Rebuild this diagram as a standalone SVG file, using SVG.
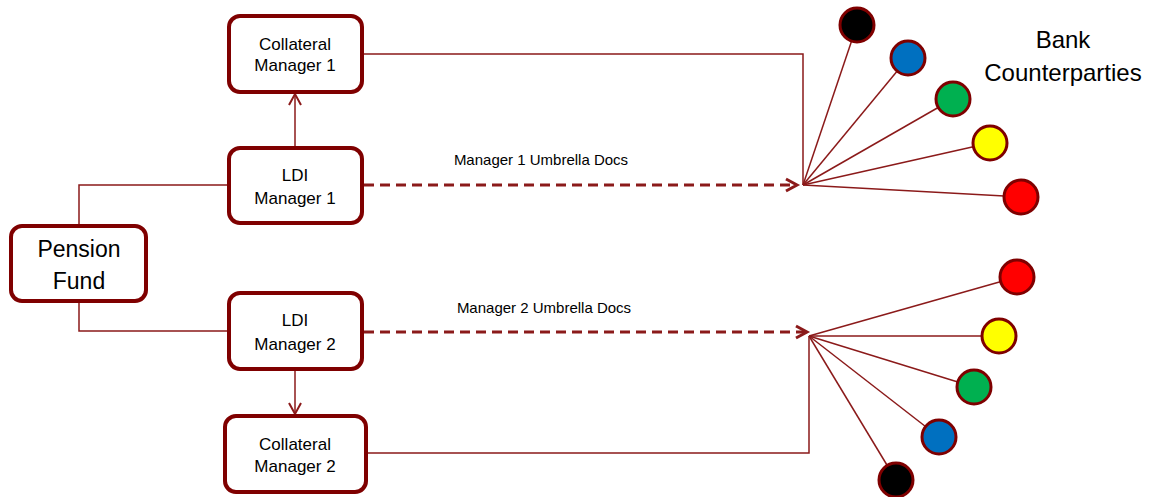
<svg xmlns="http://www.w3.org/2000/svg" width="1157" height="497" viewBox="0 0 1157 497">
<style>
.box{fill:#fff;stroke:#7f0000;stroke-width:4}
.t{font-family:"Liberation Sans",Arial,sans-serif;fill:#000;text-anchor:middle}
.line{fill:none;stroke:#8b1a1a;stroke-width:1.5}
.dash{fill:none;stroke:#8b1a1a;stroke-width:3;stroke-dasharray:10,6}
.head{fill:none;stroke:#8b1a1a;stroke-width:2}
.headb{fill:none;stroke:#8b1a1a;stroke-width:3}
.c{stroke:#7f0000;stroke-width:3}
</style>
<rect width="1157" height="497" fill="#fff"/>
<g id="connectors">
  <polyline class="line" points="79,226 79,185 229,185"/>
  <polyline class="line" points="79,301 79,331 229,331"/>
  <line class="line" x1="295" y1="148" x2="295" y2="94"/>
  <polyline class="head" points="289,105 295,94 301,105"/>
  <line class="line" x1="295" y1="370" x2="295" y2="414"/>
  <polyline class="head" points="289,403 295,414 301,403"/>
  <polyline class="line" points="362,54 803,54 803,185"/>
  <polyline class="line" points="366,453 809,453 809,336"/>
  <line class="dash" x1="364" y1="185" x2="796" y2="185"/>
  <polyline class="headb" points="786,179 797,185 786,191"/>
  <line class="dash" x1="364" y1="332" x2="805" y2="332"/>
  <polyline class="headb" points="796,326 807,332 796,338"/>
  <line class="line" x1="803" y1="185" x2="857" y2="25"/>
  <line class="line" x1="803" y1="185" x2="908" y2="58"/>
  <line class="line" x1="803" y1="185" x2="953" y2="99"/>
  <line class="line" x1="803" y1="185" x2="990" y2="143"/>
  <line class="line" x1="803" y1="185" x2="1021" y2="197"/>
  <line class="line" x1="809" y1="336" x2="1017" y2="277"/>
  <line class="line" x1="809" y1="336" x2="999" y2="336"/>
  <line class="line" x1="809" y1="336" x2="974" y2="387"/>
  <line class="line" x1="809" y1="336" x2="939" y2="437"/>
  <line class="line" x1="809" y1="336" x2="896" y2="480"/>
  <text class="t" x="541" y="165" font-size="15">Manager 1 Umbrella Docs</text>
  <text class="t" x="544" y="313" font-size="15">Manager 2 Umbrella Docs</text>
</g>
<g id="pension-fund">
  <rect class="box" x="11" y="226" width="135" height="75" rx="11"/>
  <text class="t" x="79" y="257" font-size="23">Pension</text>
  <text class="t" x="79" y="289" font-size="23">Fund</text>
</g>
<g id="collateral-manager-1">
  <rect class="box" x="229" y="16" width="133" height="76" rx="11"/>
  <text class="t" x="295" y="50" font-size="17">Collateral</text>
  <text class="t" x="295" y="71" font-size="17">Manager 1</text>
</g>
<g id="ldi-manager-1">
  <rect class="box" x="229" y="148" width="133" height="75" rx="11"/>
  <text class="t" x="295" y="181" font-size="17">LDI</text>
  <text class="t" x="295" y="204" font-size="17">Manager 1</text>
</g>
<g id="ldi-manager-2">
  <rect class="box" x="229" y="293" width="133" height="76" rx="11"/>
  <text class="t" x="295" y="326" font-size="17">LDI</text>
  <text class="t" x="295" y="350" font-size="17">Manager 2</text>
</g>
<g id="collateral-manager-2">
  <rect class="box" x="225" y="416" width="141" height="76" rx="11"/>
  <text class="t" x="295" y="450" font-size="17">Collateral</text>
  <text class="t" x="295" y="472" font-size="17">Manager 2</text>
</g>
<g id="bank-counterparties-label">
  <text class="t" x="1063" y="48" font-size="24">Bank</text>
  <text class="t" x="1063" y="81" font-size="24">Counterparties</text>
</g>
<g id="banks-1">
  <circle class="c" cx="857" cy="25" r="17" fill="#000"/>
  <circle class="c" cx="908" cy="58" r="17" fill="#0070c0"/>
  <circle class="c" cx="953" cy="99" r="17" fill="#00b050"/>
  <circle class="c" cx="990" cy="143" r="17" fill="#ffff00"/>
  <circle class="c" cx="1021" cy="197" r="17" fill="#ff0000"/>
</g>
<g id="banks-2">
  <circle class="c" cx="1017" cy="277" r="17" fill="#ff0000"/>
  <circle class="c" cx="999" cy="336" r="17" fill="#ffff00"/>
  <circle class="c" cx="974" cy="387" r="17" fill="#00b050"/>
  <circle class="c" cx="939" cy="437" r="17" fill="#0070c0"/>
  <circle class="c" cx="896" cy="480" r="17" fill="#000"/>
</g>
</svg>
